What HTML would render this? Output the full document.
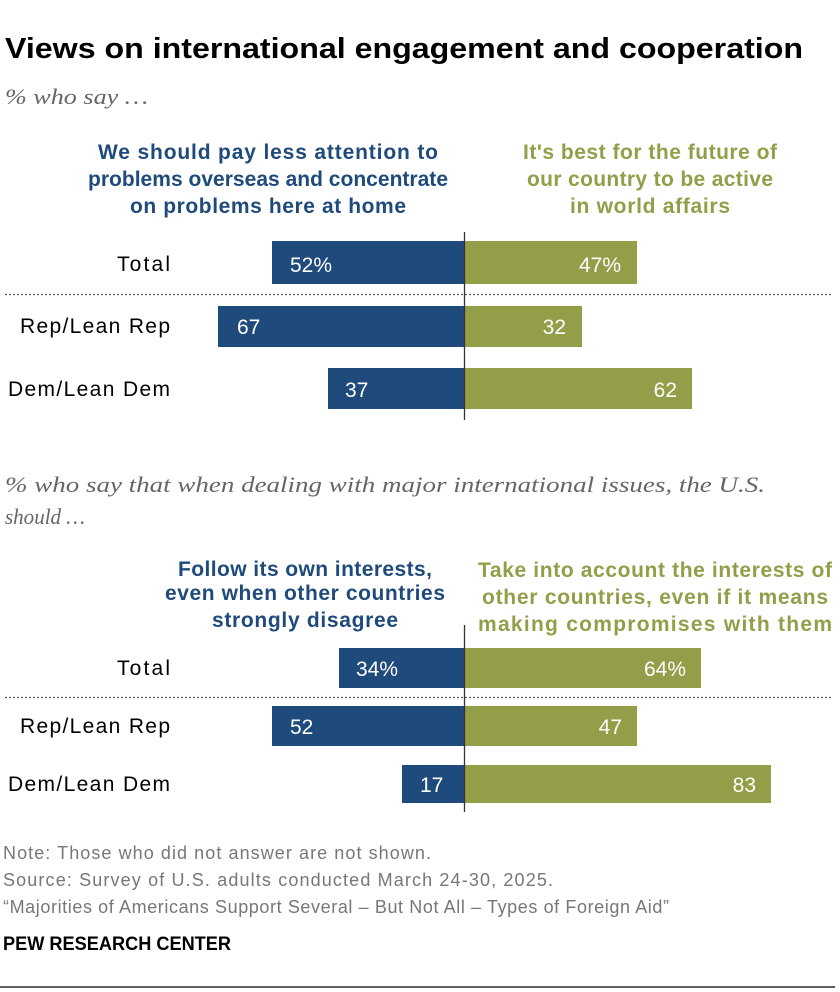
<!DOCTYPE html>
<html><head><meta charset="utf-8"><style>
body{margin:0;background:#fff}
svg{display:block;font-family:"Liberation Sans",sans-serif}
</style></head><body>
<svg width="840" height="992" viewBox="0 0 840 992">
<text x="5" y="58" font-size="29" font-weight="bold" fill="#000" textLength="798" lengthAdjust="spacingAndGlyphs">Views on international engagement and cooperation</text>
<text x="5" y="104" font-size="22" font-style="italic" fill="#666" font-family="Liberation Serif" textLength="143" lengthAdjust="spacingAndGlyphs">% who say …</text>

<g font-size="21" font-weight="bold" text-anchor="middle" lengthAdjust="spacingAndGlyphs">
<text x="268" y="159" fill="#1f4a7c" textLength="340">We should pay less attention to</text>
<text x="268" y="186" fill="#1f4a7c" textLength="360">problems overseas and concentrate</text>
<text x="268" y="213" fill="#1f4a7c" textLength="276">on problems here at home</text>
<text x="650" y="159" fill="#949d48" textLength="254">It's best for the future of</text>
<text x="650" y="186" fill="#949d48" textLength="246">our country to be active</text>
<text x="650" y="213" fill="#949d48" textLength="160">in world affairs</text>
</g>

<g font-size="21" fill="#000" text-anchor="end" lengthAdjust="spacingAndGlyphs">
<text x="170" y="271" textLength="53">Total</text>
<text x="170" y="333" textLength="150">Rep/Lean Rep</text>
<text x="170" y="396" textLength="162">Dem/Lean Dem</text>
</g>
<rect x="272" y="241" width="192" height="43" fill="#1f4a7c"/>
<rect x="464" y="241" width="173" height="43" fill="#949d48"/>
<rect x="218" y="306" width="246" height="41" fill="#1f4a7c"/>
<rect x="464" y="306" width="118" height="41" fill="#949d48"/>
<rect x="328" y="368" width="136" height="41" fill="#1f4a7c"/>
<rect x="464" y="368" width="228" height="41" fill="#949d48"/>
<line x1="5" y1="294.5" x2="833" y2="294.5" stroke="#555" stroke-width="1.2" stroke-dasharray="2,2"/>
<line x1="464.5" y1="232" x2="464.5" y2="420" stroke="#333" stroke-width="1.3"/>
<g font-size="21" fill="#fff">
<text x="290" y="272">52%</text>
<text x="237" y="334">67</text>
<text x="345" y="397">37</text>
<g text-anchor="end">
<text x="621" y="272">47%</text>
<text x="566" y="334">32</text>
<text x="677" y="397">62</text>
</g></g>

<text x="5" y="492" font-size="22" font-style="italic" fill="#666" font-family="Liberation Serif" textLength="760" lengthAdjust="spacingAndGlyphs">% who say that when dealing with major international issues, the U.S.</text>
<text x="5" y="524" font-size="22" font-style="italic" fill="#666" font-family="Liberation Serif" textLength="80" lengthAdjust="spacingAndGlyphs">should …</text>

<g font-size="21" font-weight="bold" text-anchor="middle" lengthAdjust="spacingAndGlyphs">
<text x="305" y="576" fill="#1f4a7c" textLength="254">Follow its own interests,</text>
<text x="305" y="600" fill="#1f4a7c" textLength="280">even when other countries</text>
<text x="305" y="627" fill="#1f4a7c" textLength="186">strongly disagree</text>
<text x="655" y="577" fill="#949d48" textLength="354">Take into account the interests of</text>
<text x="655" y="604" fill="#949d48" textLength="346">other countries, even if it means</text>
<text x="655" y="631" fill="#949d48" textLength="354">making compromises with them</text>
</g>

<g font-size="21" fill="#000" text-anchor="end" lengthAdjust="spacingAndGlyphs">
<text x="170" y="675" textLength="53">Total</text>
<text x="170" y="733" textLength="150">Rep/Lean Rep</text>
<text x="170" y="791" textLength="162">Dem/Lean Dem</text>
</g>
<rect x="339" y="648" width="125" height="40" fill="#1f4a7c"/>
<rect x="464" y="648" width="237" height="40" fill="#949d48"/>
<rect x="272" y="706" width="192" height="40" fill="#1f4a7c"/>
<rect x="464" y="706" width="173" height="40" fill="#949d48"/>
<rect x="402" y="765" width="62" height="38" fill="#1f4a7c"/>
<rect x="464" y="765" width="307" height="38" fill="#949d48"/>
<line x1="5" y1="697.5" x2="833" y2="697.5" stroke="#555" stroke-width="1.2" stroke-dasharray="2,2"/>
<line x1="464.5" y1="625" x2="464.5" y2="812" stroke="#333" stroke-width="1.3"/>
<g font-size="21" fill="#fff">
<text x="356" y="676">34%</text>
<text x="290" y="734">52</text>
<text x="420" y="792">17</text>
<g text-anchor="end">
<text x="686" y="676">64%</text>
<text x="622" y="734">47</text>
<text x="756" y="792">83</text>
</g></g>

<g font-size="18" fill="#777" lengthAdjust="spacingAndGlyphs">
<text x="3" y="859" textLength="428">Note: Those who did not answer are not shown.</text>
<text x="3" y="886" textLength="550">Source: Survey of U.S. adults conducted March 24-30, 2025.</text>
<text x="3" y="913" textLength="666">“Majorities of Americans Support Several – But Not All – Types of Foreign Aid”</text>
</g>
<text x="3" y="950" font-size="19" font-weight="bold" fill="#000" textLength="228" lengthAdjust="spacingAndGlyphs">PEW RESEARCH CENTER</text>
<line x1="0" y1="987" x2="835" y2="987" stroke="#000" stroke-width="1.2"/>
</svg>
</body></html>
